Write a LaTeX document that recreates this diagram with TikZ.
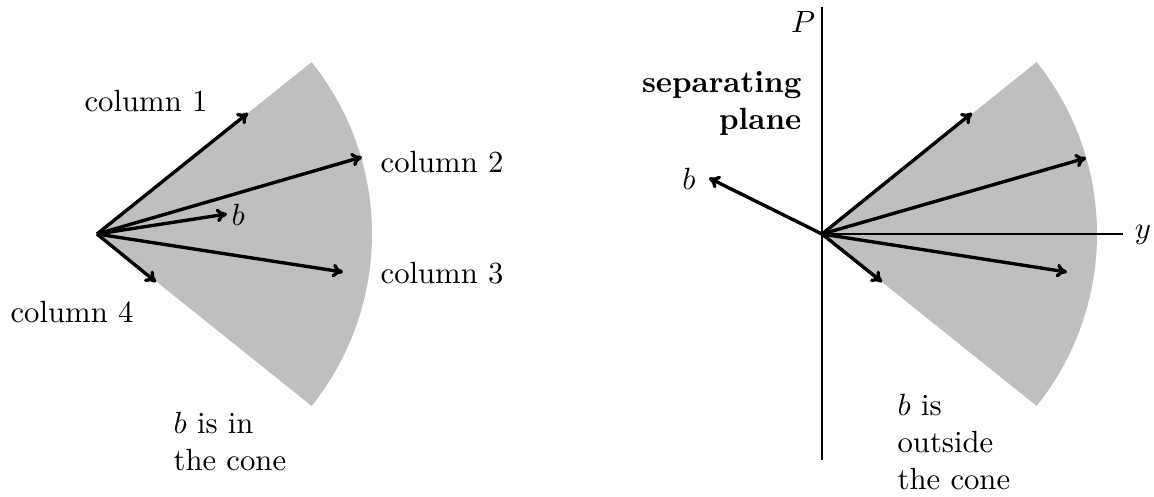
\documentclass[tikz,border=0pt]{standalone}
\usetikzlibrary{arrows.meta}
\begin{document}
\begin{tikzpicture}[x=0.32574pt,y=-0.32574pt,
  cone/.style={fill=black!25,draw=none},
  vec/.style={line width=1.1pt,-{To[length=3.5pt,width=4.5pt]}},
  axis/.style={line width=0.7pt},
  lbl/.style={inner sep=0pt,font=\normalsize}]
\useasboundingbox (0,0) rectangle (1154,496);
% ---------- left panel ----------
\coordinate (O1) at (97,234);
\fill[cone] (O1) -- ++(38.7:275) arc (38.7:-38.7:275) -- cycle;
\coordinate (L1) at (248,113);
\coordinate (L2) at (362,157);
\coordinate (Lb) at (227,214);
\coordinate (L3) at (343,272);
\coordinate (L4) at (156,282);
\draw[vec] (O1) -- (L1);
\draw[vec] (O1) -- (L2);
\draw[vec] (O1) -- (Lb);
\draw[vec] (O1) -- (L3);
\draw[vec] (O1) -- (L4);
\node[lbl] (tc1) at (146,101) {column 1};
\node[lbl,anchor=west] (tc2) at (380,162) {column 2};
\node[lbl,anchor=west] (tc3) at (380,273) {column 3};
\node[lbl,anchor=west] (tc4) at (10,312) {column 4};
\node[lbl,anchor=west] (tb1) at (231,215) {$b$};
\node[lbl,anchor=north west,align=left] (tin) at (173,412) {$b$ is in\\the cone};
% ---------- right panel ----------
\coordinate (O2) at (822,234);
\fill[cone] (O2) -- ++(38.7:275) arc (38.7:-38.7:275) -- cycle;
\coordinate (Ptop) at (822,7);
\coordinate (Pbot) at (822,460);
\coordinate (Yend) at (1123,234);
\draw[axis] (Ptop) -- (Pbot);
\draw[axis] (O2) -- (Yend);
\coordinate (R1) at (972,113);
\coordinate (R2) at (1086,158);
\coordinate (R3) at (1067,272);
\coordinate (R4) at (882,282);
\coordinate (Rb) at (709,178);
\draw[vec] (O2) -- (R1);
\draw[vec] (O2) -- (R2);
\draw[vec] (O2) -- (R3);
\draw[vec] (O2) -- (R4);
\draw[vec] (O2) -- (Rb);
\node[lbl] (tP) at (803,22) {$P$};
\node[lbl] (ty) at (1143,235) {$y$};
\node[lbl] (tb2) at (689,179) {$b$};
\node[lbl,anchor=north east,align=right,font=\bfseries] (tsep) at (802,71) {separating\\plane};
\node[lbl,anchor=north west,align=left] (tout) at (897,394) {$b$ is\\outside\\the cone};
\end{tikzpicture}
\end{document}
